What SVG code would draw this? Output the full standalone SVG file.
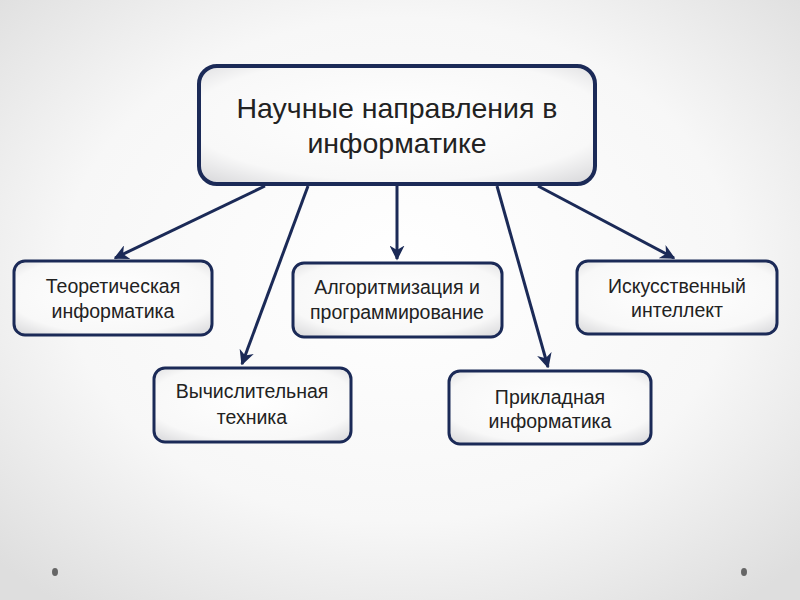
<svg xmlns="http://www.w3.org/2000/svg" width="800" height="600" viewBox="0 0 800 600">
<defs>
<radialGradient id="bg" cx="50%" cy="45%" r="70%">
<stop offset="0" stop-color="#ffffff"/>
<stop offset="0.6" stop-color="#f7f7f7"/>
<stop offset="1" stop-color="#dedede"/>
</radialGradient>
<radialGradient id="boxfill" cx="50%" cy="45%" r="70%">
<stop offset="0" stop-color="#ffffff"/>
<stop offset="0.75" stop-color="#f8f8f8"/>
<stop offset="1" stop-color="#dcdcde"/>
</radialGradient>
<marker id="arr" viewBox="0 0 10 10" refX="9" refY="5" markerWidth="5" markerHeight="5" orient="auto" markerUnits="strokeWidth">
<path d="M0,0 L10,5 L0,10 L3,5 Z" fill="#1b2a57"/>
</marker>
<style>
.box{fill:url(#boxfill);stroke:#1b2a57;stroke-width:3}
.main{fill:url(#boxfill);stroke:#1b2a57;stroke-width:4}
.t{fill:#222;text-anchor:middle;font-size:19.5px}
.tm{fill:#222;text-anchor:middle;font-size:28.5px}
.c{stroke:#1b2a57;stroke-width:3;fill:none;marker-end:url(#arr)}
</style>
</defs>
<rect width="800" height="600" fill="url(#bg)"/>
<g id="connectors">
<line class="c" x1="265" y1="186" x2="115" y2="258"/>
<line class="c" x1="308" y1="186" x2="242" y2="364"/>
<line class="c" x1="397" y1="186" x2="397" y2="259"/>
<line class="c" x1="497" y1="186" x2="548" y2="367"/>
<line class="c" x1="538" y1="186" x2="674" y2="258"/>
</g>
<g font-family="'Liberation Sans', Arial, sans-serif">
<g id="main">
<rect class="main" x="199" y="66" width="396" height="118" rx="18"/>
<text class="tm" x="397" y="118">Научные направления в</text>
<text class="tm" x="397" y="153">информатике</text>
</g>
<g id="theory">
<rect class="box" x="14" y="261" width="198" height="74" rx="11"/>
<text class="t" x="113" y="293">Теоретическая</text>
<text class="t" x="113" y="318">информатика</text>
</g>
<g id="algo">
<rect class="box" x="293" y="263" width="209" height="74" rx="11"/>
<text class="t" x="397" y="294">Алгоритмизация и</text>
<text class="t" x="397" y="319">программирование</text>
</g>
<g id="ai">
<rect class="box" x="577" y="261" width="200" height="73" rx="11"/>
<text class="t" x="677" y="293">Искусственный</text>
<text class="t" x="677" y="317">интеллект</text>
</g>
<g id="comp">
<rect class="box" x="154" y="368" width="197" height="74" rx="11"/>
<text class="t" x="252" y="398">Вычислительная</text>
<text class="t" x="252" y="424">техника</text>
</g>
<g id="applied">
<rect class="box" x="449" y="371" width="202" height="73" rx="11"/>
<text class="t" x="550" y="404">Прикладная</text>
<text class="t" x="550" y="428">информатика</text>
</g>
</g>
<ellipse cx="55" cy="572" rx="3" ry="4" fill="#666"/>
<ellipse cx="744" cy="572" rx="3" ry="4" fill="#666"/>
</svg>
